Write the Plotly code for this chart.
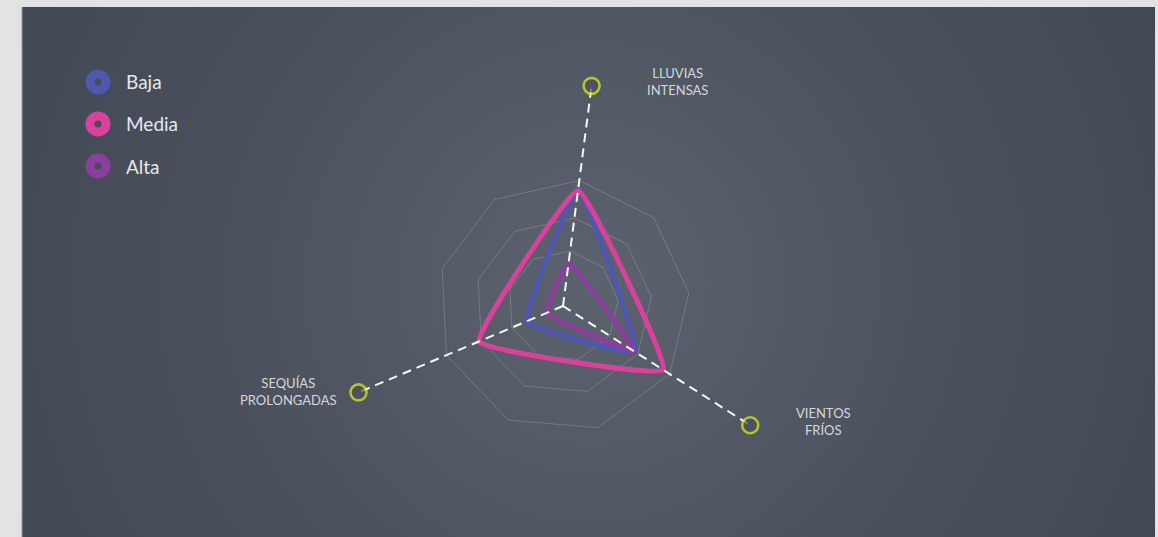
import base64
import plotly.graph_objects as go

# ---- data ----
axis_keys = ["LLUVIAS INTENSAS", "VIENTOS FRÍOS", "SEQUÍAS PROLONGADAS"]
axis_labels = ["LLUVIAS<br>INTENSAS", "VIENTOS<br>FRÍOS", "SEQUÍAS<br>PROLONGADAS"]
axis_angles = [82.6, -32.5, -157.1]   # direction of each axis (deg, counter-clockwise from east)
series_names = ["Baja", "Media", "Alta"]
baja = [53, 38.5, 17.5]
media = [52.5, 53.5, 41]
alta = [19.5, 38, 8]
ring_values = [25, 40, 57]
axis_max = 100

series_values = [baja, media, alta]
series_colors = ["#5057ae", "#d9419b", "#8b3e9d"]

W, H = 1158, 537
CX, CY, RPX = 563, 306, 222  # polar centre / radius in pixels

# nonagon grid vertices: each axis plus two evenly spaced vertices between neighbours
grid_angles = []
for i in range(3):
    a0 = axis_angles[i]
    a1 = axis_angles[(i + 1) % 3]
    span = (a0 - a1) % 360
    for k in range(3):
        grid_angles.append(a0 - span * k / 3)
grid_angles.append(grid_angles[0])

fig = go.Figure()

# grid rings
for rv in ring_values:
    fig.add_trace(go.Scatterpolar(
        r=[rv] * len(grid_angles), theta=grid_angles, mode="lines",
        line=dict(color="rgba(255,255,255,0.18)", width=1),
        hoverinfo="skip", showlegend=False))

# series
for name, vals, col in zip(series_names, series_values, series_colors):
    fig.add_trace(go.Scatterpolar(
        r=vals + [vals[0]], theta=axis_angles + [axis_angles[0]],
        mode="lines", name=name,
        line=dict(color=col, width=5, shape="spline", smoothing=0.3),
        showlegend=False, cliponaxis=False))

# dashed spokes with yellow end circles
for ang in axis_angles:
    fig.add_trace(go.Scatterpolar(
        r=[0, axis_max], theta=[ang, ang], mode="lines+markers",
        line=dict(color="rgba(255,255,255,0.95)", width=2, dash="9px,6px"),
        marker=dict(size=[0, 16], color="#4a515d",
                    line=dict(color="#e4ee1a", width=2.6)),
        showlegend=False, cliponaxis=False, hoverinfo="skip"))

# manual legend (pixel-space cartesian overlay)
leg_y = [82, 124, 166]
for name, col, y in zip(series_names, series_colors, leg_y):
    fig.add_trace(go.Scatter(x=[98], y=[y], mode="markers",
                             marker=dict(size=25, color=col, line=dict(width=0)),
                             showlegend=False, hoverinfo="skip"))
    fig.add_trace(go.Scatter(x=[98], y=[y], mode="markers",
                             marker=dict(size=7, color="#464d59", line=dict(width=0)),
                             showlegend=False, hoverinfo="skip"))

annotations = []
for name, y in zip(series_names, leg_y):
    annotations.append(dict(text=name, x=124 / W, y=1 - y / H, xref="paper", yref="paper",
                            xanchor="left", yanchor="middle", showarrow=False,
                            font=dict(family="Lato", size=19, color="#e6e7ea")))

label_pos = [(677, 82), (823, 421), (288, 391.5)]
for lab, (x, y) in zip(axis_labels, label_pos):
    annotations.append(dict(text=lab, x=x / W, y=1 - y / H, xref="paper", yref="paper",
                            xanchor="center", yanchor="middle", align="center",
                            showarrow=False,
                            font=dict(family="Lato", size=13, color="#d4d7dc")))

# radial gradient background panel
PW, PH = 1133, 530
svg = f'''<svg xmlns="http://www.w3.org/2000/svg" width="{PW}" height="{PH}" viewBox="0 0 {PW} {PH}" preserveAspectRatio="none">
<defs><radialGradient id="g" gradientUnits="userSpaceOnUse" cx="570" cy="275" r="640">
<stop offset="0" stop-color="#5c636e"/><stop offset="0.55" stop-color="#4b525e"/><stop offset="1" stop-color="#414854"/></radialGradient></defs>
<rect width="{PW}" height="{PH}" fill="url(#g)"/></svg>'''
src = "data:image/svg+xml;base64," + base64.b64encode(svg.encode()).decode()

fig.update_layout(
    width=W, height=H, autosize=False,
    margin=dict(l=0, r=0, t=0, b=0),
    paper_bgcolor="#e3e3e3",
    plot_bgcolor="rgba(0,0,0,0)",
    showlegend=False,
    images=[dict(source=src, xref="paper", yref="paper", x=22 / W, y=1 - 7 / H,
                 sizex=PW / W, sizey=PH / H, xanchor="left", yanchor="top",
                 sizing="stretch", layer="below")],
    shapes=[dict(type="line", xref="paper", yref="paper", x0=22 / W, x1=22 / W,
                 y0=0, y1=1 - 7 / H, line=dict(color="#9a9ca0", width=1))],
    xaxis=dict(range=[0, W], domain=[0, 1], visible=False, fixedrange=True),
    yaxis=dict(range=[H, 0], domain=[0, 1], visible=False, fixedrange=True),
    polar=dict(
        domain=dict(x=[(CX - RPX) / W, (CX + RPX) / W],
                    y=[(H - CY - RPX) / H, (H - CY + RPX) / H]),
        bgcolor="rgba(0,0,0,0)",
        angularaxis=dict(thetaunit="degrees", rotation=0, direction="counterclockwise",
                         showgrid=False, showline=False, showticklabels=False, ticks=""),
        radialaxis=dict(range=[0, axis_max], showgrid=False,
                        showline=False, showticklabels=False, ticks=""),
    ),
    annotations=annotations,
)

fig.write_html("out.html", config={"displayModeBar": False},
               post_script="document.body.style.margin='0px';document.body.style.overflow='hidden';")
